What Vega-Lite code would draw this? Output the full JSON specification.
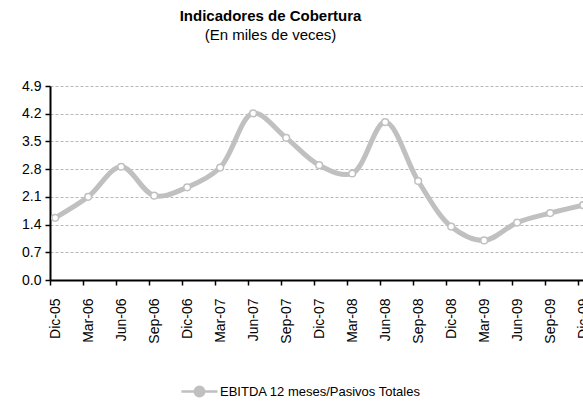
{
  "$schema": "https://vega.github.io/schema/vega-lite/v6.json",
  "autosize": "none",
  "width": 533,
  "height": 194,
  "padding": {"left": 50, "top": 86, "right": 0, "bottom": 125},
  "background": "white",
  "config": {
    "font": "Liberation Sans",
    "view": {"stroke": null}
  },
  "title": {
    "text": "Indicadores de Cobertura",
    "subtitle": "(En miles de veces)",
    "font": "Liberation Sans",
    "fontSize": 15,
    "fontWeight": "bold",
    "subtitleFont": "Liberation Sans",
    "subtitleFontSize": 15,
    "subtitleColor": "#000000",
    "color": "#000000",
    "anchor": "middle",
    "dx": -46,
    "offset": 36,
    "subtitlePadding": 4
  },
  "data": {
    "values": [
      {"periodo": "Dic-05", "valor": 1.57, "serie": "EBITDA 12 meses/Pasivos Totales"},
      {"periodo": "Mar-06", "valor": 2.10, "serie": "EBITDA 12 meses/Pasivos Totales"},
      {"periodo": "Jun-06", "valor": 2.86, "serie": "EBITDA 12 meses/Pasivos Totales"},
      {"periodo": "Sep-06", "valor": 2.13, "serie": "EBITDA 12 meses/Pasivos Totales"},
      {"periodo": "Dic-06", "valor": 2.34, "serie": "EBITDA 12 meses/Pasivos Totales"},
      {"periodo": "Mar-07", "valor": 2.84, "serie": "EBITDA 12 meses/Pasivos Totales"},
      {"periodo": "Jun-07", "valor": 4.21, "serie": "EBITDA 12 meses/Pasivos Totales"},
      {"periodo": "Sep-07", "valor": 3.59, "serie": "EBITDA 12 meses/Pasivos Totales"},
      {"periodo": "Dic-07", "valor": 2.90, "serie": "EBITDA 12 meses/Pasivos Totales"},
      {"periodo": "Mar-08", "valor": 2.69, "serie": "EBITDA 12 meses/Pasivos Totales"},
      {"periodo": "Jun-08", "valor": 3.99, "serie": "EBITDA 12 meses/Pasivos Totales"},
      {"periodo": "Sep-08", "valor": 2.50, "serie": "EBITDA 12 meses/Pasivos Totales"},
      {"periodo": "Dic-08", "valor": 1.35, "serie": "EBITDA 12 meses/Pasivos Totales"},
      {"periodo": "Mar-09", "valor": 1.00, "serie": "EBITDA 12 meses/Pasivos Totales"},
      {"periodo": "Jun-09", "valor": 1.45, "serie": "EBITDA 12 meses/Pasivos Totales"},
      {"periodo": "Sep-09", "valor": 1.69, "serie": "EBITDA 12 meses/Pasivos Totales"},
      {"periodo": "Dic-09", "valor": 1.89, "serie": "EBITDA 12 meses/Pasivos Totales"}
    ]
  },
  "encoding": {
    "x": {
      "field": "periodo",
      "type": "nominal",
      "sort": null,
      "bandPosition": 0.157,
      "scale": {"type": "band", "range": [0, 561], "paddingInner": 0, "paddingOuter": 0},
      "axis": {
        "title": null,
        "bandPosition": 0,
        "labelAngle": 270,
        "labelAlign": "right",
        "labelBaseline": "middle",
        "labelOffset": -11,
        "labelPadding": 13,
        "labelFontSize": 14,
        "labelColor": "#000000",
        "domainColor": "#000000",
        "domainWidth": 2,
        "tickColor": "#000000",
        "tickWidth": 1.5,
        "tickSize": 5,
        "grid": false,
        "labelOverlap": false
      }
    },
    "y": {
      "field": "valor",
      "type": "quantitative",
      "scale": {"domain": [0, 4.9], "nice": false, "zero": true},
      "axis": {
        "title": null,
        "values": [0, 0.7, 1.4, 2.1, 2.8, 3.5, 4.2, 4.9],
        "format": ".1f",
        "labelFontSize": 14,
        "labelColor": "#000000",
        "labelPadding": 4,
        "domainColor": "#000000",
        "domainWidth": 2,
        "tickColor": "#000000",
        "tickWidth": 1.5,
        "tickSize": 5,
        "grid": true,
        "gridColor": "#b8b8b8",
        "gridDash": [3, 2],
        "gridWidth": 1,
        "gridCap": "butt"
      }
    },
    "color": {
      "field": "serie",
      "type": "nominal",
      "scale": {"range": ["#c0c0c0"]},
      "legend": {
        "title": null,
        "orient": "none",
        "legendX": 130,
        "legendY": 286,
        "symbolType": "M-1,0L-0.26,0M0.26,0L1,0M-0.26,0A0.26,0.26 0 1,1 0.26,0A0.26,0.26 0 1,1 -0.26,0Z",
        "symbolSize": 1300,
        "labelFontSize": 13,
        "labelLimit": 0,
        "labelColor": "#000000",
        "labelOffset": 1,
        "encode": {
          "symbols": {
            "update": {
              "fill": {"value": "#ffffff"},
              "stroke": {"value": "#c0c0c0"},
              "strokeWidth": {"value": 2.5},
              "opacity": {"value": 1}
            }
          }
        }
      }
    }
  },
  "layer": [
    {
      "mark": {"type": "line", "strokeWidth": 5, "interpolate": "catmull-rom", "color": "#c0c0c0"}
    },
    {
      "mark": {"type": "point", "filled": true, "fill": "#ffffff", "stroke": "#c0c0c0", "strokeWidth": 1.5, "size": 45, "opacity": 1}
    }
  ]
}
